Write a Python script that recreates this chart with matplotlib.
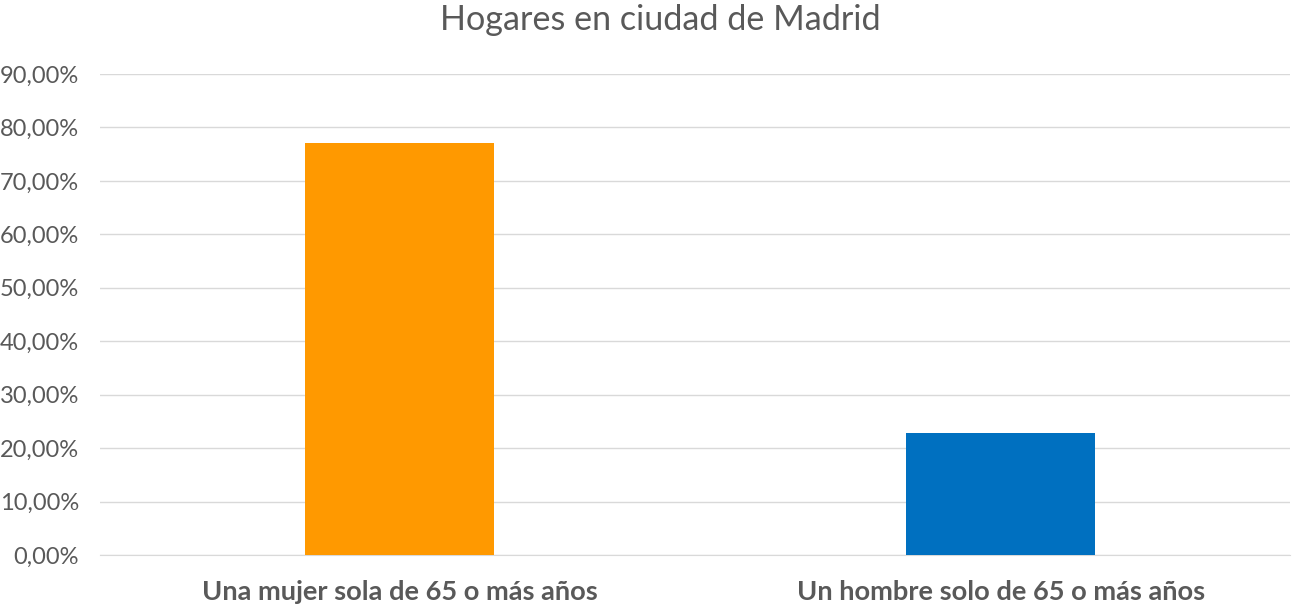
import matplotlib.pyplot as plt
from matplotlib.ticker import FuncFormatter, MultipleLocator

categorias = ["Una mujer sola de 65 o más años", "Un hombre solo de 65 o más años"]
porcentajes = [77.1, 22.9]
colores = ["#FF9900", "#0070C0"]

plt.rcParams['font.family'] = ['Lato', 'DejaVu Sans']

fig = plt.figure(figsize=(13.01, 6.10), dpi=100)
ax = fig.add_axes([100 / 1301, 55 / 610, 1190 / 1301, 481 / 610])

x = range(len(categorias))
ax.bar(x, porcentajes, width=0.3145, color=colores, zorder=3)

ax.set_xlim(-0.499, 1.481)
ax.set_ylim(0, 90)
ax.yaxis.set_major_locator(MultipleLocator(10))
ax.yaxis.set_major_formatter(FuncFormatter(lambda v, p: f"{v:.2f}%".replace(".", ",")))
ax.grid(axis='y', color='#D9D9D9', linewidth=1, zorder=0)

ax.set_xticks(list(x))
ax.set_xticklabels(categorias, fontsize=19.6, fontweight='bold', color='#595959')
ax.tick_params(axis='x', length=0, pad=18)
ax.tick_params(axis='y', length=0, labelsize=17, labelcolor='#595959', pad=15)

for lado in ['top', 'right', 'left']:
    ax.spines[lado].set_visible(False)
ax.spines['bottom'].set_color('#D9D9D9')

fig.text(660 / 1301, 0.967, "Hogares en ciudad de Madrid", ha='center', va='center',
         fontsize=24.6, color='#595959')

fig.savefig("out.png", dpi=100)
